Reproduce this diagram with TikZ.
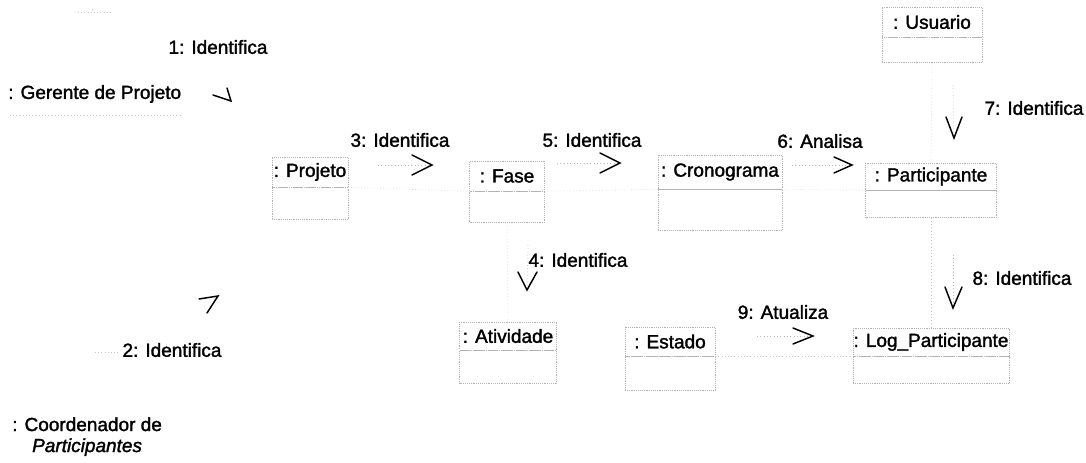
\documentclass[tikz,border=0pt]{standalone}
\usepackage{fontspec}
\setmainfont{Liberation Sans}[FakeBold=1.6]
% object box: name compartment + empty body compartment
% #1 name, #2 cx, #3 cy, #4 width, #5 name height, #6 body height, #7 text
\newcommand{\umlobj}[7]{%
  \node[objname, minimum width={#4*0.75pt}, minimum height={#5*0.75pt}] (#1) at (#2,#3) {#7};
  \node[objbody, minimum width={#4*0.75pt}, minimum height={#6*0.75pt}, anchor=north] (#1B) at (#1.south) {};}
\begin{document}
\begin{tikzpicture}[x=0.75pt,y=-0.75pt,
  txt/.style={font=\fontsize{14.25}{15.75}\selectfont, inner sep=0pt, text=black},
  objname/.style={draw=gray!60, densely dotted, line width=0.4pt, inner sep=0pt,
                  font=\fontsize{14.25}{15.75}\selectfont, text=black},
  objbody/.style={draw=gray!60, densely dotted, line width=0.4pt, inner sep=0pt},
  link/.style={draw=gray!45, dotted, line width=0.4pt},
  msgline/.style={draw=gray!55, dotted, line width=0.5pt},
  head/.style={draw=black, line width=1.1pt, line cap=round, line join=miter},
]
\fill[white] (0,0) rectangle (1086,463);
\useasboundingbox (0,0) rectangle (1086,463);

% objects
\umlobj{usu}{932}{22}{100}{30}{25}{: Usuario}
\umlobj{proj}{310}{172}{76}{30}{32}{: Projeto}
\umlobj{fase}{507}{176}{75}{30}{31}{: Fase}
\umlobj{cron}{720}{172}{124}{34}{41}{: Cronograma}
\umlobj{part}{931}{176.5}{131}{27}{27}{: Participante}
\umlobj{ativ}{508}{336}{97}{28}{33}{: Atividade}
\umlobj{est}{670}{341.5}{90}{29}{34}{: Estado}
\umlobj{log}{931}{342}{156}{28}{27}{: Log\_Participante}

% actors (names only)
\node[txt, anchor=west] (ger) at (8,94) {: Gerente de Projeto};
\node[txt, align=center, anchor=north west] (coord) at (12,417) {: Coordenador de\\ \textit{Participantes}};
\coordinate (gerU) at (10,115);
\draw[link] (gerU) -- ++(170,0);
\coordinate (topmark) at (78,12);
\draw[link] (topmark) -- ++(34,0);
\draw[link] (topmark) ++(14,-3) -- ++(0,3);
\coordinate (coordmark) at (95,352);
\draw[link] (coordmark) -- ++(23,0);

% links
\draw[link] (projB.north east) -- (faseB.north west);
\draw[link] (faseB.north east) -- (cronB.north west);
\draw[link] (cronB.north east) -- (partB.north west);
\draw[link] (usuB.south) -- (part.north);
\draw[link] (partB.south) -- (log.north);
\draw[link] (faseB.south) -- (ativ.north);
\draw[link] (estB.north east) -- (logB.north west);

% message labels
\node[txt] (l1) at (218,47) {1: Identifica};
\node[txt] (l2) at (172,350) {2: Identifica};
\node[txt] (l3) at (400,140) {3: Identifica};
\node[txt] (l4) at (578,260) {4: Identifica};
\node[txt] (l5) at (592,140) {5: Identifica};
\node[txt] (l6) at (820,141) {6: Analisa};
\node[txt] (l7) at (1034,108) {7: Identifica};
\node[txt] (l8) at (1022,278) {8: Identifica};
\node[txt] (l9) at (783,312) {9: Atualiza};

% message arrows
\coordinate (t1) at (231,101);
\draw[head] (t1) ++(-18,-6) -- (t1) -- ++(-4,-13);
\coordinate (t2) at (218,296);
\draw[head] (t2) ++(-19,3) -- (t2) -- ++(-11,17);

\coordinate (s3) at (378,165); \coordinate (t3) at (432,165);
\draw[msgline] (s3) -- (t3);
\draw[head] (t3) ++(-20,-10) -- (t3) -- ++(-20,10);

\coordinate (s5) at (557,163); \coordinate (t5) at (620,163);
\draw[msgline] (s5) -- (t5);
\draw[head] (t5) ++(-20,-10) -- (t5) -- ++(-20,10);

\coordinate (s6) at (792,165); \coordinate (t6) at (852,165);
\draw[msgline] (s6) -- (t6);
\draw[head] (t6) ++(-18,-8) -- (t6) -- ++(-18,8);

\coordinate (s9) at (757,336); \coordinate (t9) at (813,336);
\draw[msgline] (s9) -- (t9);
\draw[head] (t9) ++(-20,-8) -- (t9) -- ++(-20,8);

\coordinate (s7) at (953,85); \coordinate (t7) at (954,138);
\draw[msgline] (s7) -- (t7);
\draw[head] (t7) ++(-8,-21) -- (t7) -- ++(8,-21);

\coordinate (s4) at (528,245); \coordinate (t4) at (527,290);
\draw[msgline] (s4) -- (t4);
\draw[head] (t4) ++(-9,-18) -- (t4) -- ++(10,-18);

\coordinate (s8) at (953,255); \coordinate (t8) at (953,308);
\draw[msgline] (s8) -- (t8);
\draw[head] (t8) ++(-8,-21) -- (t8) -- ++(9,-21);
\end{tikzpicture}
\end{document}
